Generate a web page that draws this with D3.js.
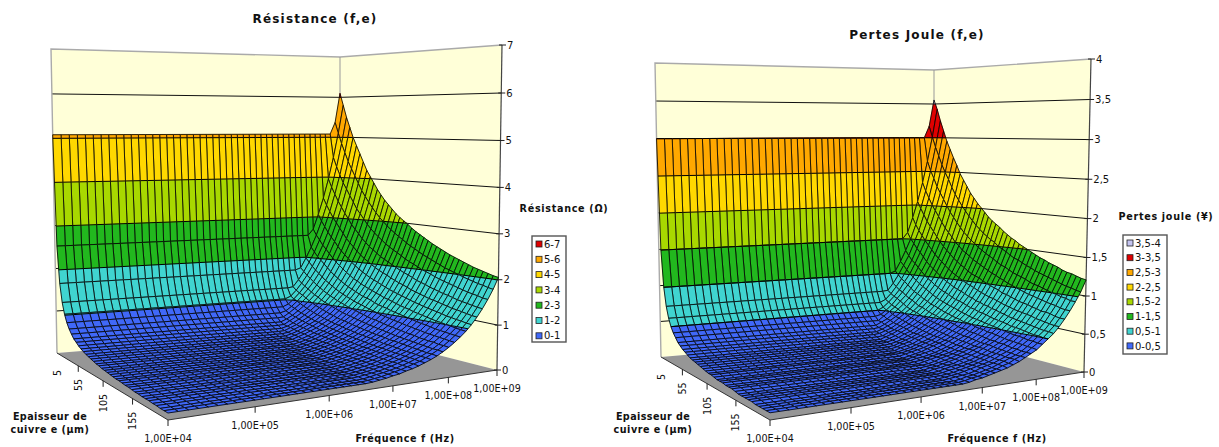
<!DOCTYPE html>
<html><head><meta charset="utf-8">
<script src="https://cdn.jsdelivr.net/npm/d3@7"></script>
<style>html,body{margin:0;background:#fff}svg{display:block}text{font-family:"DejaVu Sans",sans-serif;fill:#111}</style>
</head><body><svg id="c" width="1219" height="447"></svg>
<script>
// Values. e rows, f columns; values in hundredths of the axis unit.
const thickness = d3.range(5, 205, 5);
const frequencyCount = 46;
const freqTicks = ["1,00E+04","1,00E+05","1,00E+06","1,00E+07","1,00E+08","1,00E+09"];
const thickTicks = ["5","55","105","155"];
const resistanceTicks = ["0","1","2","3","4","5","6","7"];
const jouleTicks = ["0","0,5","1","1,5","2","2,5","3","3,5","4"];
const resistanceBands = ["0-1","1-2","2-3","3-4","4-5","5-6","6-7"];
const jouleBands = ["0-0,5","0,5-1","1-1,5","1,5-2","2-2,5","2,5-3","3-3,5","3,5-4"];
// value of each thickness row over the flat low-frequency part
const resistancePlateau = [508,254,169,127,102,85,73,64,56,51,46,42,39,36,34,32,30,28,27,25,24,23,22,21,20,20,19,18,18,17,16,16,15,15,15,14,14,13,13,13];
// values of each row over the rising high-frequency part, ending at 1E+09
const resistanceRise = [
[537,610],
[269,306,347,395,449,510,580],
[174,198,225,255,290,330,375,426,484,550],
[129,146,166,189,214,244,277,315,358,406,462,525],
[108,122,139,158,180,204,232,264,300,341,387,440,500],
[91,103,117,133,152,172,196,223,253,288,327,372,422,480],
[77,87,99,113,128,145,165,188,213,243,276,313,356,405,460],
[65,74,84,95,108,122,139,158,180,204,232,264,300,341,387,440],
[62,70,80,91,103,117,133,151,172,195,222,252,286,325,370,420],
[52,60,68,77,87,99,113,128,146,165,188,214,243,276,314,356,405],
[50,57,65,74,84,95,108,123,140,159,181,206,234,266,302,343,390],
[43,49,55,63,71,81,92,104,119,135,153,174,198,225,255,290,330,375],
[41,47,53,61,69,78,89,101,115,130,148,168,191,217,247,280,319,362],
[40,45,52,59,66,76,86,98,111,126,143,162,185,210,238,271,308,350],
[39,44,50,57,65,73,83,95,108,122,139,158,179,204,232,263,299,340],
[33,38,43,49,55,63,71,81,92,105,119,135,153,174,198,225,256,290,330],
[32,36,41,47,53,61,69,78,89,101,115,131,149,169,192,218,248,282,320],
[31,35,40,46,52,59,67,76,87,99,112,127,145,165,187,213,242,275,312],
[30,35,39,45,51,58,66,75,85,97,110,125,142,161,183,208,236,268,305],
[26,30,34,38,44,50,56,64,73,83,94,107,122,138,157,179,203,231,262,298],
[26,29,33,37,43,48,55,62,71,81,92,104,118,135,153,174,198,225,255,290],
[25,28,32,37,42,47,54,61,69,79,89,102,115,131,149,170,193,219,249,283],
[25,28,32,36,41,46,52,59,68,77,87,99,113,129,146,166,189,214,244,277],
[24,27,31,35,40,45,51,58,66,75,86,97,111,126,143,163,185,210,238,271],
[21,23,27,30,34,39,44,50,57,65,74,84,95,108,123,140,159,181,205,233,265],
[23,26,29,33,38,43,49,56,63,72,82,93,106,120,137,155,176,200,228,259],
[20,22,25,29,33,37,42,48,55,62,71,80,91,104,118,134,152,173,197,224,254],
[19,22,25,28,32,36,41,47,54,61,69,79,90,102,116,131,149,170,193,219,249],
[19,21,24,28,32,36,41,46,53,60,68,77,88,100,113,129,146,166,189,215,244],
[18,21,24,27,31,35,40,45,51,58,66,76,86,98,111,126,143,163,185,210,239],
[18,21,24,27,30,35,39,45,51,58,65,74,85,96,109,124,141,160,182,207,235],
[18,20,23,26,30,34,39,44,50,57,64,73,83,94,107,122,139,157,179,203,231],
[17,20,23,26,29,33,38,43,49,56,63,72,82,93,105,120,136,155,176,200,227],
[17,20,22,25,29,33,37,42,48,55,62,70,80,91,103,118,134,152,173,196,223],
[17,19,22,25,28,32,37,42,47,54,61,69,79,89,102,115,131,149,170,193,219],
[15,17,19,22,25,28,32,36,41,47,53,60,68,78,88,100,114,130,147,167,190,216],
[15,17,19,21,24,28,32,36,41,46,52,59,68,77,87,99,112,128,145,165,187,213],
[14,16,19,21,24,27,31,35,40,45,51,58,66,76,86,97,111,126,143,163,185,210],
[14,16,18,21,24,27,31,35,39,45,51,58,66,75,85,96,109,124,141,160,182,207],
[14,16,18,21,23,27,30,34,39,44,50,57,65,74,84,95,108,123,140,159,180,205]];
const joulePlateau = [300,150,100,75,60,50,43,38,33,30,27,25,23,21,20,19,18,17,16,15,14,14,13,12,12,12,11,11,11,10,9,9,9,9,9,8,8,8,8,8];
const jouleRise = [
[317,356],
[159,181,205,233,265,301,342],
[103,117,133,150,171,195,221,251,286,325],
[76,86,98,112,126,144,163,186,211,240,273,310],
[64,72,82,93,106,120,137,156,177,201,228,260,295],
[54,61,69,78,90,101,116,132,149,170,193,219,249,283],
[45,51,58,67,76,86,97,111,126,143,163,185,210,239,271],
[38,44,50,56,64,72,82,93,106,120,137,156,177,201,228,260],
[37,41,47,54,61,69,78,89,101,115,131,149,169,192,218,248],
[31,35,40,45,51,58,67,76,86,97,111,126,143,163,185,210,239],
[30,34,38,44,50,56,64,73,83,94,107,122,138,157,178,202,230],
[26,29,32,37,42,48,54,61,70,80,90,103,117,133,150,171,195,221],
[24,28,31,36,41,46,53,60,68,77,87,99,113,128,146,165,188,214],
[24,27,31,35,39,45,51,58,65,74,84,96,109,124,140,160,182,207],
[23,26,30,34,38,43,49,56,64,72,82,93,106,120,137,155,176,201],
[20,22,25,29,32,37,42,48,54,62,70,80,90,103,117,133,151,171,195],
[19,21,24,28,31,36,41,46,53,60,68,77,88,100,113,129,146,166,189],
[18,21,24,27,31,35,40,45,51,58,66,75,86,97,110,126,143,162,184],
[18,21,23,27,30,34,39,44,50,57,65,74,84,95,108,123,139,158,180],
[15,18,20,22,26,30,33,38,43,49,55,63,72,81,93,106,120,136,155,176],
[15,17,19,22,25,28,32,37,42,48,54,61,70,80,90,103,117,133,150,171],
[15,17,19,22,25,28,32,36,41,47,53,60,68,77,88,100,114,129,147,167],
[15,17,19,21,24,27,31,35,40,45,51,58,67,76,86,98,112,126,144,163],
[14,16,18,21,24,27,30,34,39,44,51,57,65,74,84,96,109,124,140,160],
[12,14,16,18,20,23,26,30,34,38,44,50,56,64,73,83,94,107,121,137,156],
[14,15,17,19,22,25,29,33,37,42,48,55,63,71,81,91,104,118,135,153],
[12,13,15,17,19,22,25,28,32,37,42,47,54,61,70,79,90,102,116,132,150],
[11,13,15,17,19,21,24,28,32,36,41,47,53,60,68,77,88,100,114,129,147],
[11,12,14,17,19,21,24,27,31,35,40,45,52,59,67,76,86,98,112,127,144],
[11,12,14,16,18,21,24,27,30,34,39,45,51,58,65,74,84,96,109,124,141],
[11,12,14,16,18,21,23,27,30,34,38,44,50,57,64,73,83,94,107,122,139],
[11,12,14,15,18,20,23,26,30,34,38,43,49,55,63,72,82,93,106,120,136],
[10,12,14,15,17,19,22,25,29,33,37,42,48,55,62,71,80,91,104,118,134],
[10,12,13,15,17,19,22,25,28,32,37,41,47,54,61,70,79,90,102,116,132],
[10,11,13,15,17,19,22,25,28,32,36,41,47,53,60,68,77,88,100,114,129],
[9,10,11,13,15,17,19,21,24,28,31,35,40,46,52,59,67,77,87,99,112,127],
[9,10,11,12,14,17,19,21,24,27,31,35,40,45,51,58,66,76,86,97,110,126],
[8,9,11,12,14,16,18,21,24,27,30,34,39,45,51,57,65,74,84,96,109,124],
[8,9,11,12,14,16,18,21,23,27,30,34,39,44,50,57,64,73,83,94,107,122],
[8,9,11,12,14,16,18,20,23,26,30,34,38,44,50,56,64,73,83,94,106,121]];

const resistanceColors = ["#4068f8","#40d4d0","#22b81e","#a8d800","#ffd800","#ffa800","#e00000"];
const jouleColors = ["#4068f8","#40d4d0","#22b81e","#a8d800","#ffd800","#ffa800","#e00000","#c4c4f0"];

const svg = d3.select("#c");
const WALL = "#ffffd8", FLOOR = "#969696";

function homography(p0, p1, p2, p3) {
  const sx=p0[0]-p1[0]+p2[0]-p3[0], sy=p0[1]-p1[1]+p2[1]-p3[1];
  const dx1=p1[0]-p2[0], dx2=p3[0]-p2[0], dy1=p1[1]-p2[1], dy2=p3[1]-p2[1];
  const den=dx1*dy2-dx2*dy1, g=(sx*dy2-dx2*sy)/den, h=(dx1*sy-sx*dy1)/den;
  const a=p1[0]-p0[0]+g*p1[0], b=p3[0]-p0[0]+h*p3[0], d=p1[1]-p0[1]+g*p1[1], e=p3[1]-p0[1]+h*p3[1];
  const W=(u,v)=>g*u+h*v+1;
  const fn=(u,v)=>{const w=W(u,v); return [(a*u+b*v+p0[0])/w,(d*u+e*v+p0[1])/w];};
  fn.W=W;
  return fn;
}
function clip(poly, z, keepAbove) {
  const out=[];
  poly.forEach((a,i)=>{
    const b=poly[(i+1)%poly.length];
    const ain=keepAbove?a[2]>=z:a[2]<=z, bin=keepAbove?b[2]>=z:b[2]<=z;
    if(ain) out.push(a);
    if(ain!==bin){const t=(z-a[2])/(b[2]-a[2]); out.push([a[0]+(b[0]-a[0])*t,a[1]+(b[1]-a[1])*t,z]);}
  });
  return out;
}
function drawChart(o) {
  const g = svg.append("g");
  const nE=o.plateau.length, nF=frequencyCount;
  const grid=o.plateau.map((p,i)=>{const t=o.rise[i],s=nF-t.length;return d3.range(nF).map(j=>j<s?p:t[j-s]);});
  const uS=d3.scaleLinear([0,nF-1],[0,1]), vS=d3.scaleLinear([0,nE-1],[0,1]);
  const zS=d3.scaleLinear([0,o.zMax],[0,1]);
  const fl=homography(o.floor.left,o.floor.back,o.floor.right,o.floor.front);
  // vertical edge vectors at the three visible corners, carried over the floor with its perspective
  const Wb=fl.W(1,0), Wr=fl.W(1,1);
  const vec=k=>{
    const vl=o.top.left[k]-o.floor.left[k], vb=(o.top.back[k]-o.floor.back[k])*Wb, vr=(o.top.right[k]-o.floor.right[k])*Wr;
    return (u,v)=>(vl+(vb-vl)*u+(vr-vb)*v)/fl.W(u,v);
  };
  const vx=vec(0), vy=vec(1);
  const P=(u,v,z)=>{const a=fl(u,v),s=zS(z),t=s/(s+(1-s)*1.04);return [a[0]+vx(u,v)*t,a[1]+vy(u,v)*t];};
  const line=d3.line();
  const closed=d3.line().curve(d3.curveLinearClosed);
  // walls and floor
  g.append("path").attr("d",closed([P(0,0,0),P(0,0,o.zMax),P(1,0,o.zMax),P(1,0,0)])).attr("fill",WALL).attr("stroke","none");
  g.append("path").attr("d",closed([P(1,0,0),P(1,0,o.zMax),P(1,1,o.zMax),P(1,1,0)])).attr("fill",WALL).attr("stroke","none");
  g.append("path").attr("d",closed([P(0,0,0),P(1,0,0),P(1,1,0),P(0,1,0)])).attr("fill",FLOOR);
  const levels=d3.range(o.ticks.length).map(i=>i*o.step);
  levels.slice(1,-1).forEach(z=>{
    g.append("path").attr("d",line([P(0,0,z),P(1,0,z),P(1,1,z)])).attr("fill","none").attr("stroke","#111").attr("stroke-width",1);
  });
  g.append("path").attr("d",line([P(0,0,0),P(0,0,o.zMax),P(1,0,o.zMax),P(1,1,o.zMax)])).attr("fill","none").attr("stroke","#aaa").attr("stroke-width",1.4);
  g.append("path").attr("d",line([P(1,0,0),P(1,0,o.zMax)])).attr("fill","none").attr("stroke","#999").attr("stroke-width",1);
  // axes
  g.append("path").attr("d",line([P(1,1,0),P(1,1,o.zMax)])).attr("fill","none").attr("stroke","#444").attr("stroke-width",1.2);
  g.append("path").attr("d",line([P(0,0,0),P(0,1,0),P(1,1,0)])).attr("fill","none").attr("stroke","#333").attr("stroke-width",1);
  // surface, back to front
  const items=[];
  for(let i=0;i<nE-1;i++) for(let j=nF-2;j>=0;j--){
    const q=[[j,i],[j+1,i],[j+1,i+1],[j,i+1]].map(([c,r])=>[uS(c),vS(r),grid[r][c]]);
    o.colors.forEach((col,b)=>{
      const lo=b*o.step,hi=(b+1)*o.step;
      if(d3.max(q,d=>d[2])<lo||d3.min(q,d=>d[2])>hi) return;
      let poly=clip(clip(q,lo,true),hi,false);
      if(poly.length<3) return;
      items.push({d:closed(poly.map(a=>P(a[0],a[1],a[2]))),fill:col,stroke:col,w:.4});
    });
    levels.slice(1,-1).forEach(L=>{
      const pts=[];
      q.forEach((a,k)=>{const c=q[(k+1)%4];
        if((a[2]<L)!==(c[2]<L)){const t=(L-a[2])/(c[2]-a[2]);pts.push(P(a[0]+(c[0]-a[0])*t,a[1]+(c[1]-a[1])*t,L));}});
      if(pts.length>=2) items.push({d:line(pts.slice(0,2)),fill:"none",stroke:"#000",w:1});
    });
    items.push({d:closed(q.map(a=>P(a[0],a[1],a[2]))),fill:"none",stroke:"#050505",w:.85});
  }
  g.append("g").selectAll("path").data(items).join("path")
    .attr("d",d=>d.d).attr("fill",d=>d.fill).attr("stroke",d=>d.stroke).attr("stroke-width",d=>d.w).attr("stroke-linejoin","round");
  // z ticks
  levels.forEach((z,i)=>{
    const p=P(1,1,z);
    g.append("line").attr("x1",p[0]-3).attr("x2",p[0]+4).attr("y1",p[1]).attr("y2",p[1]).attr("stroke","#222");
    g.append("text").attr("x",p[0]+5).attr("y",p[1]+3.6).attr("font-size",10).text(o.ticks[i]);
  });
  // f ticks
  freqTicks.forEach((t,i)=>{
    const u=i/(freqTicks.length-1), p=P(u,1,0);
    g.append("line").attr("x1",p[0]).attr("x2",p[0]).attr("y1",p[1]).attr("y2",p[1]+6).attr("stroke","#222");
    g.append("text").attr("x",p[0]).attr("y",p[1]+22).attr("text-anchor","middle").attr("font-size",9.6).text(t);
  });
  // e ticks
  thickTicks.forEach((t,i)=>{
    const p=P(0,(i*10)/40,0);
    if(i) g.append("line").attr("x1",p[0]).attr("x2",p[0]).attr("y1",p[1]).attr("y2",p[1]+6).attr("stroke","#222");
    g.append("text").attr("transform",`translate(${p[0]+3.5},${p[1]+(i?13:17)}) rotate(-90)`).attr("text-anchor","end").attr("font-size",9.6).text(t);
  });
  const bold=(x,y,s,size,ls)=>g.append("text").attr("x",x).attr("y",y).attr("text-anchor","middle")
     .attr("font-size",size).attr("font-weight","bold").attr("letter-spacing",ls).text(s);
  bold(o.title[0],o.title[1],o.title[2],12,1.2);
  bold(o.fx,442,"Fréquence f (Hz)",9.6,.6);
  bold(o.ex,420,"Epaisseur de",9.6,.4);
  bold(o.ex,433,"cuivre e (µm)",9.6,.5);
  bold(o.legend.tx,o.legend.ty,o.legend.title,9.6,.7);
  // legend
  const L=o.legend;
  g.append("rect").attr("x",L.x).attr("y",L.y).attr("width",L.w).attr("height",L.h).attr("fill","#fff").attr("stroke","#555").attr("stroke-width",1.4);
  o.bands.slice().reverse().forEach((b,i)=>{
    const y=L.y0+i*L.dy, col=o.colors[o.colors.length-1-i];
    g.append("rect").attr("x",L.x+4).attr("y",y-3).attr("width",6).attr("height",6).attr("fill",col).attr("stroke","#222").attr("stroke-width",.8);
    g.append("text").attr("x",L.x+12).attr("y",y+3.6).attr("font-size",10).text(b);
  });
}
drawChart({plateau:resistancePlateau,rise:resistanceRise,colors:resistanceColors,bands:resistanceBands,ticks:resistanceTicks,zMax:700,step:100,
  floor:{left:[57,353],back:[340,330],right:[497,370],front:[168,420]},
  top:{left:[51,49],back:[340,57],right:[502,45]},
  title:[315,23,"Résistance (f,e)"],fx:405,ex:50,
  legend:{title:"Résistance (Ω)",tx:564,ty:212,x:532,y:236,w:34,h:106,y0:244,dy:15.3}});
drawChart({plateau:joulePlateau,rise:jouleRise,colors:jouleColors,bands:jouleBands,ticks:jouleTicks,zMax:400,step:50,
  floor:{left:[661,357],back:[934,333],right:[1084,372],front:[770,420]},
  top:{left:[655,63],back:[934,70],right:[1091,59]},
  title:[917,39,"Pertes Joule (f,e)"],fx:997,ex:653,
  legend:{title:"Pertes joule (¥)",tx:1166,ty:220,x:1123,y:235,w:44,h:119,y0:243,dy:14.7}});
</script></body></html>
